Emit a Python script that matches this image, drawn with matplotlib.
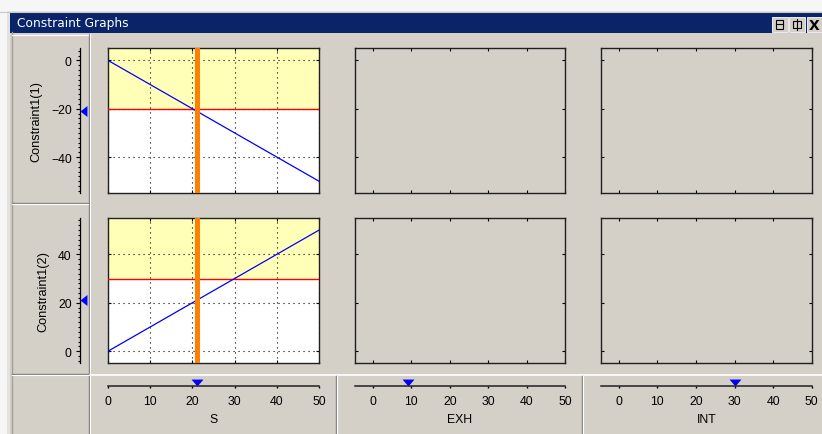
import matplotlib
matplotlib.use('Agg')
import matplotlib.pyplot as plt
from matplotlib.patches import Rectangle
from matplotlib.ticker import MultipleLocator

# ---------------- data ----------------
input_names = ['S', 'EXH', 'INT']
input_values = [21, 9, 30]
input_ticks = [0, 10, 20, 30, 40, 50]
constraint_labels = ['Constraint1(1)', 'Constraint1(2)']
constraint_x = [0, 50]
constraint_y1 = [0, -50]
constraint_y2 = [0, 50]
constraint_bounds = [-20, 30]
constraint_values = [-21, 21]
row_ylims = [(-55, 5), (-5, 55)]
row_yticks = [[-40, -20, 0], [0, 20, 40]]
col_xlims = [(0, 50), (-4.7, 50), (-4.7, 50)]
title_text = 'Constraint Graphs'

# ---------------- style ----------------
W, H = 822, 435
PANEL = '#D4D0C8'
NAVY = '#0A246A'
DARK = '#808080'
YELLOW = '#FFFFB8'
ORANGE = '#FF8000'
BLUE = '#0000FF'
RED = '#FF0000'
FS = 8.5

plt.rcParams['font.family'] = ['Liberation Sans', 'DejaVu Sans']

fig = plt.figure(figsize=(W / 100, H / 100), dpi=100)
fig.patch.set_facecolor('white')


def px_axes(x0, y0, x1, y1, **kw):
    return fig.add_axes([x0 / W, 1 - y1 / H, (x1 - x0) / W, (y1 - y0) / H], **kw)


# ---------------- background (window chrome) ----------------
bg = fig.add_axes([0, 0, 1, 1])
bg.set_xlim(0, W)
bg.set_ylim(H, 0)
bg.axis('off')
bg.add_patch(Rectangle((0, 0), W, H, color='#F6F6F6', lw=0))
bg.add_patch(Rectangle((7, 12), W - 7, H - 12, color='#E4E2DC', lw=0))
bg.add_patch(Rectangle((10, 33), W - 10, H - 33, color=PANEL, lw=0))
bg.plot([0, W], [12.5, 12.5], color='#C8C8C8', lw=0.8)
# title bar
bg.add_patch(Rectangle((10, 14), W - 10, 19.5, color=NAVY, lw=0))
bg.text(17, 24, title_text, color='white', fontsize=8.8, va='center', ha='left',
        family=['DejaVu Sans'])
# title-bar buttons
for bx0, bx1 in [(771.5, 787.5), (788.5, 805), (806.5, 822)]:
    bg.add_patch(Rectangle((bx0, 18), bx1 - bx0, 14.5, facecolor=PANEL, edgecolor='white', lw=0.6))
bg.add_patch(Rectangle((776, 20.5), 7, 9, fill=False, edgecolor='black', lw=0.8))
bg.plot([776, 783], [25, 25], color='black', lw=0.8)
bg.add_patch(Rectangle((792.5, 22), 8, 6.5, fill=False, edgecolor='black', lw=0.8))
bg.plot([796.5, 796.5], [20, 30.5], color='black', lw=0.8)
bg.text(814.5, 25.5, 'X', fontsize=10, fontweight='bold', ha='center', va='center',
        family=['DejaVu Sans'])
# left border
bg.plot([11.7, 11.7], [33, H], color='#A0A0A0', lw=1)
# left column cells
bg.plot([88.6, 88.6], [35, H], color=DARK, lw=1)
bg.plot([89.6, 89.6], [35, H], color='white', lw=0.8)
bg.plot([12, 88], [35.5, 35.5], color='white', lw=0.8)
for yy in [203.5, 375]:
    bg.plot([12, 88], [yy, yy], color=DARK, lw=1)
    bg.plot([12, 88], [yy + 1.2, yy + 1.2], color='white', lw=0.8)
# bottom (slider) row separators
bg.plot([90, W], [376.3, 376.3], color='white', lw=1.2)
for xx in [336, 581.7]:
    bg.plot([xx, xx], [377, H], color=DARK, lw=1)
    bg.plot([xx + 1.1, xx + 1.1], [377, H], color='white', lw=0.8)

# ---------------- layout ----------------
col_px = [(108, 319), (355, 565), (600.7, 811.7)]
row_px = [(49.3, 194.3), (219, 364.3)]
constraint_ys = [constraint_y1, constraint_y2]

for r, (y0, y1) in enumerate(row_px):
    # ----- left y-axis with label and current-value marker -----
    ay = px_axes(80, y0, 89, y1)
    ay.set_facecolor('none')
    ay.set_xlim(0, 1)
    ay.set_ylim(*row_ylims[r])
    for s in ['top', 'right', 'bottom']:
        ay.spines[s].set_visible(False)
    ay.spines['left'].set_color('black')
    ay.spines['left'].set_linewidth(0.9)
    ay.set_xticks([])
    ay.set_yticks(row_yticks[r])
    ay.yaxis.set_minor_locator(MultipleLocator(2))
    ay.tick_params(axis='y', which='major', direction='out', length=3, width=0.8,
                   pad=3, labelsize=FS + 0.3)
    ay.tick_params(axis='y', which='minor', direction='out', length=1.5, width=0.8)
    ay.set_ylabel(constraint_labels[r], fontsize=9.2, labelpad=6)
    ay.plot([0], [constraint_values[r]], ls='none',
            marker=[(0, 0), (7, 5.5), (7, -5.5), (0, 0)], ms=10,
            color=BLUE, mec=BLUE, mew=0, clip_on=False, zorder=5)

    for c, (x0, x1) in enumerate(col_px):
        ax = px_axes(x0, y0, x1, y1)
        ax.set_xlim(*col_xlims[c])
        ax.set_ylim(*row_ylims[r])
        ax.set_xticks(input_ticks)
        ax.set_yticks(row_yticks[r])
        ax.tick_params(direction='in', length=2, width=0.8, top=True, right=True,
                       labelbottom=False, labelleft=False)
        for s in ax.spines.values():
            s.set_color('#202020')
            s.set_linewidth(1.0)
        if c == 0:
            ax.set_facecolor('white')
            ax.axhspan(constraint_bounds[r], row_ylims[r][1], color=YELLOW, lw=0, zorder=0)
            ax.grid(True, color='black', linestyle=(0, (1, 3.5)), linewidth=0.8)
            ax.set_axisbelow(True)
            ax.axhline(constraint_bounds[r], color=RED, lw=1.0, zorder=3)
            ax.plot(constraint_x, constraint_ys[r], color=BLUE, lw=0.9, zorder=4)
            ax.axvline(input_values[c], color=ORANGE, lw=3.6, zorder=5)
        else:
            ax.set_facecolor(PANEL)

# ---------------- slider row ----------------
for c, (x0, x1) in enumerate(col_px):
    asl = px_axes(x0, 372, x1, 387.3)
    asl.set_facecolor('none')
    asl.set_xlim(*col_xlims[c])
    asl.set_ylim(0, 1)
    for s in ['top', 'left', 'right']:
        asl.spines[s].set_visible(False)
    asl.spines['bottom'].set_color('#202020')
    asl.spines['bottom'].set_linewidth(1.1)
    asl.set_yticks([])
    asl.set_xticks(input_ticks)
    asl.tick_params(axis='x', direction='out', length=1.5, width=1, pad=5, labelsize=FS + 0.3)
    asl.set_xlabel(input_names[c], fontsize=FS + 0.3, labelpad=4)
    asl.plot([input_values[c]], [0], ls='none',
             marker=[(-6, 7), (6, 7), (0, 0), (-6, 7)], ms=10,
             color=BLUE, mec=BLUE, mew=0, clip_on=False)

fig.savefig('out.png', dpi=100, facecolor=fig.get_facecolor())
